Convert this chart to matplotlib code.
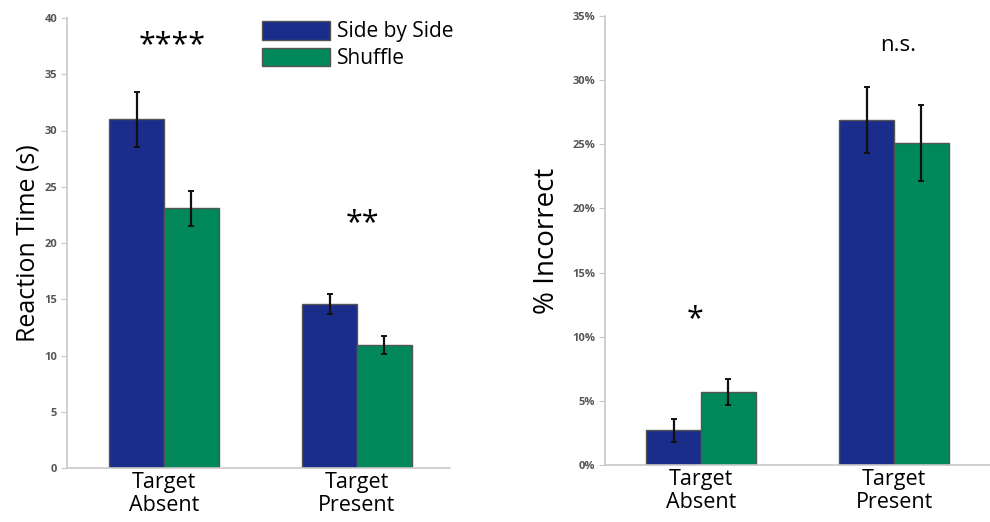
import matplotlib.pyplot as plt
from matplotlib.patches import Patch
from matplotlib.ticker import FuncFormatter

plt.rcParams['font.family'] = ['Open Sans', 'DejaVu Sans']

groups = ["Target\nAbsent", "Target\nPresent"]
series = ["Side by Side", "Shuffle"]

rt_side = [31.0, 14.6]
rt_side_err = [2.45, 0.9]
rt_shuffle = [23.1, 10.9]
rt_shuffle_err = [1.55, 0.8]
rt_stars = ["****", "**"]

inc_side = [2.7, 26.9]
inc_side_err = [0.9, 2.6]
inc_shuffle = [5.7, 25.1]
inc_shuffle_err = [1.0, 2.95]
inc_stars = ["*", "n.s."]

blue = "#1a2d8a"
green = "#00875a"
edge = "#555555"
axis_gray = "#c8c8c8"
tick_gray = "#555555"

width = 0.283
xs = [0, 1]

fig = plt.figure(figsize=(9.9, 5.22), dpi=100)
ax1 = fig.add_axes([67 / 990, 1 - 468 / 522, 383 / 990, 450 / 522])
ax2 = fig.add_axes([605 / 990, 1 - 465 / 522, 385 / 990, 449 / 522])


def draw_panel(ax, side, side_err, shuf, shuf_err):
    ax.bar([x - width / 2 for x in xs], side, width, color=blue, edgecolor=edge, linewidth=1.0, zorder=2)
    ax.bar([x + width / 2 for x in xs], shuf, width, color=green, edgecolor=edge, linewidth=1.0, zorder=2)
    ax.errorbar([x - width / 2 for x in xs], side, yerr=side_err, fmt="none", ecolor="#111111",
                elinewidth=1.6, capsize=2, capthick=1.4, zorder=3)
    ax.errorbar([x + width / 2 for x in xs], shuf, yerr=shuf_err, fmt="none", ecolor="#111111",
                elinewidth=1.6, capsize=2, capthick=1.4, zorder=3)
    ax.set_xticks(xs)
    ax.set_xticklabels(groups, fontsize=15.5, linespacing=1.1)
    ax.tick_params(axis="x", length=0, pad=3)
    ax.tick_params(axis="y", length=4, color=axis_gray, labelsize=8, labelcolor=tick_gray, pad=3)
    for s in ["top", "right"]:
        ax.spines[s].set_visible(False)
    for s in ["left", "bottom"]:
        ax.spines[s].set_color(axis_gray)
        ax.spines[s].set_linewidth(1.2)


# reaction time
draw_panel(ax1, rt_side, rt_side_err, rt_shuffle, rt_shuffle_err)
ax1.set_xlim(-0.503, 1.482)
ax1.set_ylim(0, 40)
ax1.set_yticks(range(0, 41, 5))
for lab in ax1.get_yticklabels():
    lab.set_fontweight("bold")
ax1.set_ylabel("Reaction Time (s)", fontsize=18, labelpad=3)
ax1.text(0.04, 37.6, rt_stars[0], ha="center", va="center", fontsize=22)
ax1.text(1.03, 21.8, rt_stars[1], ha="center", va="center", fontsize=22)

# error rate
draw_panel(ax2, inc_side, inc_side_err, inc_shuffle, inc_shuffle_err)
ax2.set_xlim(-0.497, 1.497)
ax2.set_ylim(0, 35)
ax2.set_yticks(range(0, 36, 5))
ax2.yaxis.set_major_formatter(FuncFormatter(lambda v, p: f"{v:.0f}%"))
for lab in ax2.get_yticklabels():
    lab.set_fontweight("bold")
ax2.set_ylabel("% Incorrect", fontsize=20, labelpad=8)
ax2.text(-0.03, 11.4, inc_stars[0], ha="center", va="center", fontsize=22)
ax2.text(1.02, 32.7, inc_stars[1], ha="center", va="center", fontsize=16)

handles = [Patch(facecolor=blue, edgecolor=edge, linewidth=1.0),
           Patch(facecolor=green, edgecolor=edge, linewidth=1.0)]
fig.legend(handles, series, loc="upper left", bbox_to_anchor=(262 / 990, 1 - 21 / 522),
           frameon=False, fontsize=15, handlelength=3.27, handleheight=1.0,
           handletextpad=0.35, labelspacing=0.25, borderpad=0, borderaxespad=0)

fig.savefig("out.png", dpi=100)
